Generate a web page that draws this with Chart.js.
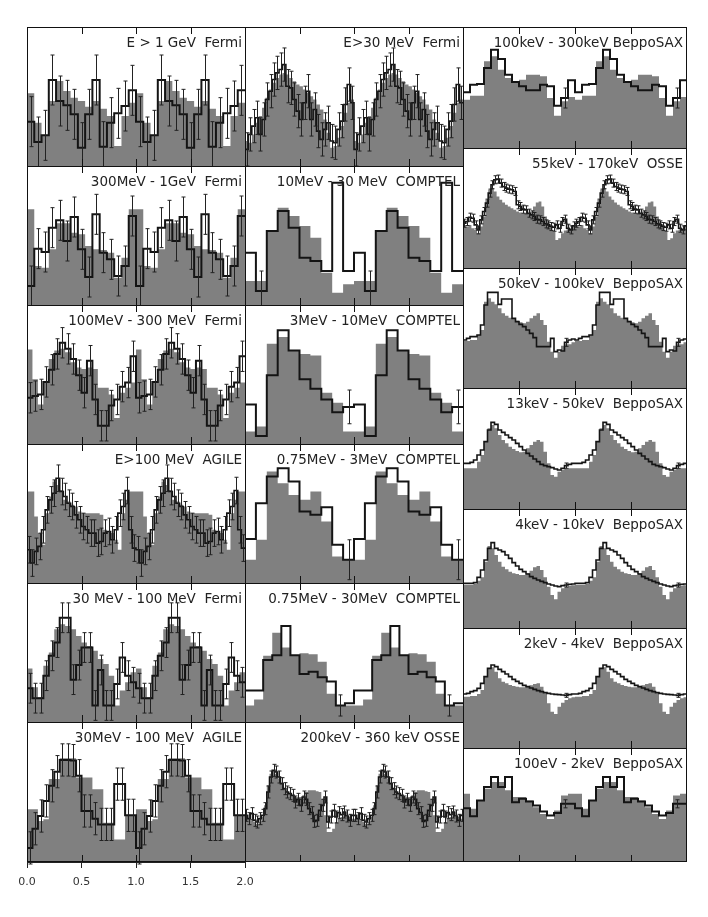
<!DOCTYPE html>
<html>
<head>
<meta charset="utf-8">
<script src="https://cdn.jsdelivr.net/npm/chart.js@4.4.1/dist/chart.umd.min.js"></script>
<style>
  body { margin: 0; background: #fff; width: 708px; height: 917px; position: relative; overflow: hidden; }
  .panel { position: absolute; }
  .label { position: absolute; font-family: "DejaVu Sans", sans-serif; font-size: 13.5px; line-height: 1; color: #222; white-space: pre; text-align: right; }
</style>
</head>
<body>
<script>
// phase axis
const phaseTicks = [0, 0.5, 1, 1.5, 2];
const phaseTickLabels = ["0.0", "0.5", "1.0", "1.5", "2.0"];

const titles = [
  "E > 1 GeV  Fermi", "300MeV - 1GeV  Fermi", "100MeV - 300 MeV  Fermi",
  "E>100 MeV  AGILE", "30 MeV - 100 MeV  Fermi", "30MeV - 100 MeV  AGILE",
  "E>30 MeV  Fermi", "10MeV - 30 MeV  COMPTEL", "3MeV - 10MeV  COMPTEL",
  "0.75MeV - 3MeV  COMPTEL", "0.75MeV - 30MeV  COMPTEL", "200keV - 360 keV OSSE",
  "100keV - 300keV BeppoSAX", "55keV - 170keV  OSSE", "50keV - 100keV  BeppoSAX",
  "13keV - 50keV  BeppoSAX", "4keV - 10keV  BeppoSAX", "2keV - 4keV  BeppoSAX",
  "100eV - 2keV  BeppoSAX"
];

// one pulse cycle per panel: measured counts (data) and model (gray)
const gevData = [133, 72, 92, 258, 195, 182, 155, 55, 155, 258, 58, 130, 158, 180, 227];
const gevModel = [218, 130, 90, 195, 255, 225, 205, 195, 178, 195, 172, 150, 60, 150, 190];

const fermi300Data = [57, 169, 159, 232, 254, 192, 264, 167, 84, 272, 157, 137, 87, 117, 267];
const fermi300Model = [287, 117, 112, 167, 245, 245, 217, 212, 177, 167, 165, 157, 82, 142, 287];

const fermi100Data = [137, 142, 147, 184, 220, 267, 300, 282, 252, 204, 152, 247, 132, 54, 54, 114, 132, 170, 182, 260];
const fermi100Model = [280, 192, 117, 187, 252, 277, 282, 272, 242, 227, 222, 227, 222, 167, 167, 147, 77, 152, 167, 182];

const agile100Data = [100, 60, 95, 110, 160, 220, 250, 270, 315, 275, 260, 240, 230, 205, 190, 170, 160, 150, 150, 120, 125, 150, 155, 130, 160, 210, 230, 278, 160, 105];
const agile100Model = [275, 275, 200, 150, 115, 210, 260, 305, 295, 280, 250, 245, 235, 230, 215, 210, 210, 210, 210, 210, 205, 160, 155, 150, 130, 100, 210, 250, 275, 275];

const fermi30Data = [102, 72, 72, 140, 200, 240, 315, 315, 128, 172, 225, 225, 50, 157, 50, 50, 115, 195, 140, 120];
const fermi30Model = [162, 105, 75, 170, 210, 280, 295, 290, 280, 260, 240, 230, 215, 190, 175, 140, 50, 95, 120, 150];

const agile30Data = [42, 99, 137, 182, 227, 269, 304, 304, 302, 257, 152, 152, 129, 112, 112, 112, 232, 232, 139, 139];
const agile30Model = [157, 157, 122, 127, 247, 247, 309, 309, 309, 252, 252, 252, 217, 217, 117, 117, 67, 67, 137, 137];

const fermiAllData = [50, 95, 120, 145, 95, 140, 200, 225, 260, 280, 290, 305, 240, 235, 200, 165, 140, 190, 225, 140, 170, 105, 80, 110, 130, 75, 70, 110, 135, 185, 245, 190];
const fermiAllModel = [75, 70, 95, 130, 150, 175, 205, 230, 250, 265, 275, 280, 275, 265, 255, 245, 240, 230, 220, 210, 200, 185, 170, 140, 100, 55, 60, 85, 120, 160, 190, 200];

const comptel10Data = [157, 42, 222, 282, 232, 142, 132, 102, 367, 102];
const comptel10Model = [72, 72, 222, 292, 267, 237, 202, 97, 37, 62];

const comptel3Data = [117, 24, 204, 337, 277, 192, 164, 132, 94, 110];
const comptel3Model = [37, 52, 297, 317, 277, 267, 262, 152, 122, 37];

const comptel075Data = [132, 240, 320, 345, 305, 215, 205, 228, 115, 70];
const comptel075Model = [70, 130, 335, 300, 265, 250, 275, 185, 80, 70];

const comptelWideData = [95, 95, 187, 202, 290, 202, 145, 152, 135, 122, 50, 57];
const comptelWideModel = [50, 68, 200, 270, 225, 200, 208, 205, 182, 85, 50, 50];

const osse200Data = [140, 130, 145, 125, 120, 130, 140, 160, 210, 255, 275, 270, 255, 235, 220, 210, 205, 200, 180, 188, 170, 195, 188, 160, 148, 122, 125, 155, 170, 195, 120, 135, 155, 135, 148, 142, 150, 138, 125, 140];
const osse200Model = [130, 130, 125, 120, 115, 120, 135, 170, 230, 265, 275, 265, 250, 235, 220, 210, 205, 200, 195, 195, 195, 200, 210, 215, 215, 215, 212, 210, 190, 140, 90, 90, 100, 120, 130, 135, 138, 135, 135, 130];

const sax100Data = [167, 190, 192, 240, 295, 267, 220, 198, 185, 173, 173, 190, 185, 127, 150, 203];
const sax100Model = [145, 157, 157, 260, 275, 235, 210, 200, 205, 220, 220, 215, 150, 97, 140, 153];

const osse55Data = [134, 139, 152, 149, 129, 114, 144, 169, 194, 224, 249, 264, 266, 254, 244, 239, 236, 234, 229, 189, 184, 176, 174, 164, 159, 154, 146, 144, 139, 132, 129, 124, 122, 129, 119, 139, 146, 119, 114, 126];
const osse55Model = [129, 124, 129, 119, 114, 104, 124, 154, 204, 234, 239, 229, 214, 204, 196, 189, 184, 179, 174, 169, 166, 164, 162, 164, 169, 184, 196, 199, 184, 154, 139, 129, 109, 84, 89, 104, 112, 116, 119, 124];

const sax50Data = [144, 149, 154, 154, 159, 189, 249, 287, 287, 287, 251, 267, 267, 267, 209, 199, 191, 184, 174, 164, 151, 124, 124, 124, 124, 149, 109, 114, 111, 137, 144, 147];
const sax50Model = [141, 141, 144, 144, 159, 174, 259, 269, 259, 251, 239, 224, 217, 211, 207, 202, 197, 194, 199, 209, 217, 224, 204, 189, 139, 109, 91, 109, 127, 131, 131, 137];

const sax13Data = [137, 137, 140, 147, 162, 177, 202, 237, 260, 254, 237, 230, 222, 214, 207, 197, 187, 177, 167, 159, 150, 142, 134, 130, 127, 124, 120, 117, 122, 130, 134, 137];
const sax13Model = [122, 122, 122, 122, 142, 162, 202, 242, 252, 242, 222, 207, 197, 187, 180, 174, 170, 172, 182, 192, 202, 207, 202, 172, 137, 102, 97, 112, 117, 120, 122, 122];

const sax4Data = [134, 134, 134, 136, 152, 174, 204, 239, 256, 239, 234, 229, 219, 209, 196, 186, 176, 169, 162, 154, 149, 144, 140, 136, 132, 129, 126, 124, 127, 129, 131, 132];
const sax4Model = [129, 129, 129, 132, 142, 152, 199, 246, 239, 219, 199, 184, 176, 169, 164, 162, 159, 159, 164, 172, 182, 186, 174, 152, 124, 99, 86, 109, 119, 124, 126, 128];

const sax2Data = [162, 164, 169, 172, 179, 194, 214, 239, 249, 244, 236, 229, 222, 214, 206, 200, 194, 188, 184, 180, 176, 172, 169, 166, 164, 162, 161, 160, 159, 158, 160, 162];
const sax2Model = [154, 154, 156, 156, 162, 174, 214, 239, 242, 229, 209, 199, 194, 189, 186, 184, 182, 182, 184, 188, 192, 194, 184, 164, 134, 109, 102, 124, 136, 144, 149, 152];

const saxSoftData = [160, 136, 183, 223, 253, 223, 253, 178, 188, 180, 168, 150, 138, 146, 173, 173];
const saxSoftModel = [203, 158, 183, 218, 238, 238, 213, 193, 193, 183, 163, 143, 128, 153, 198, 203];

// y range, error size, and which bins carry an error bar (null = all)
const yMax = [417, 417, 412, 418, 420, 417, 418, 417, 412, 418, 420, 420, 363, 359, 360, 363, 357, 360, 339];
const errSize = [75, 60, 45, 40, 45, 48, 50, 60, 50, 60, 32, 18, 30, 12, 12, 8, 6, 6, 12];
const errBins = [null, null, null, null, null, null, null, [1], [9], [9], [10], null, [14], null, [29], [29], [29], [29], [14]];

const dataSets = [gevData, fermi300Data, fermi100Data, agile100Data, fermi30Data, agile30Data,
  fermiAllData, comptel10Data, comptel3Data, comptel075Data, comptelWideData, osse200Data,
  sax100Data, osse55Data, sax50Data, sax13Data, sax4Data, sax2Data, saxSoftData];
const modelSets = [gevModel, fermi300Model, fermi100Model, agile100Model, fermi30Model, agile30Model,
  fermiAllModel, comptel10Model, comptel3Model, comptel075Model, comptelWideModel, osse200Model,
  sax100Model, osse55Model, sax50Model, sax13Model, sax4Model, sax2Model, saxSoftModel];

// layout
const colX = [[27, 245], [245, 463], [463, 686]];
const rowsLM = [27, 166, 305, 444, 583, 722, 861];
const rowsR = [27, 148, 268, 388, 509, 628, 748, 861];

// two cycles, points on the bin edges for a stepped line
function series(cycle) {
  const n = cycle.length;
  const pts = [];
  for (let k = 0; k < 2 * n; k++) pts.push({ x: k / n, y: cycle[k % n] });
  pts.push({ x: 2, y: cycle[n - 1] });
  return pts;
}

function panelPlugin(i, col, lastRow) {
  return {
    id: "panelDeco" + i,
    afterDatasetsDraw(chart) {
      const { ctx, chartArea: a, scales: { x, y } } = chart;
      const vals = dataSets[i];
      const n = vals.length;
      const e = errSize[i];
      ctx.save();
      ctx.strokeStyle = "#222";
      ctx.lineWidth = 1;
      ctx.beginPath();
      for (let k = 0; k < 2 * n; k++) {
        const j = k % n;
        if (errBins[i] && !errBins[i].includes(j)) continue;
        const cx = Math.round(x.getPixelForValue((k + 0.5) / n)) + 0.5;
        const yt = y.getPixelForValue(vals[j] + e);
        const yb = y.getPixelForValue(vals[j] - e);
        ctx.moveTo(cx, yt); ctx.lineTo(cx, yb);
        ctx.moveTo(cx - 2, yt); ctx.lineTo(cx + 2, yt);
        ctx.moveTo(cx - 2, yb); ctx.lineTo(cx + 2, yb);
      }
      ctx.stroke();

      // frame and inner phase ticks
      ctx.strokeStyle = "#111";
      ctx.beginPath();
      ctx.moveTo(a.left, a.top + 0.5); ctx.lineTo(a.right, a.top + 0.5);
      ctx.moveTo(a.left + 0.5, a.top); ctx.lineTo(a.left + 0.5, a.bottom);
      if (col === 2) { ctx.moveTo(a.right - 0.5, a.top); ctx.lineTo(a.right - 0.5, a.bottom); }
      if (lastRow) { ctx.moveTo(a.left, a.bottom - 0.5); ctx.lineTo(a.right, a.bottom - 0.5); }
      for (const v of [0.5, 1, 1.5]) {
        const px = Math.round(x.getPixelForValue(v)) + 0.5;
        ctx.moveTo(px, a.top); ctx.lineTo(px, a.top + 7);
        ctx.moveTo(px, a.bottom - 7); ctx.lineTo(px, a.bottom);
      }
      ctx.stroke();
      ctx.restore();
    }
  };
}

for (let i = 0; i < dataSets.length; i++) {
  const col = i < 6 ? 0 : i < 12 ? 1 : 2;
  const row = col < 2 ? i % 6 : i - 12;
  const rows = col < 2 ? rowsLM : rowsR;
  const x0 = colX[col][0], x1 = colX[col][1];
  const y0 = rows[row], y1 = rows[row + 1];
  const lastRow = row === rows.length - 2;
  const withAxis = i === 5;
  const padSide = withAxis ? 15 : 0;
  const axisH = withAxis ? 32 : 0;

  const div = document.createElement("div");
  div.className = "panel";
  div.style.left = (x0 - padSide) + "px";
  div.style.top = y0 + "px";
  div.style.width = (x1 - x0 + (col === 2 ? 1 : 0) + 2 * padSide) + "px";
  div.style.height = (y1 - y0 + (lastRow ? 1 : 0) + axisH) + "px";
  const canvas = document.createElement("canvas");
  div.appendChild(canvas);
  document.body.appendChild(div);

  const fine = dataSets[i].length >= 30;

  new Chart(canvas, {
    type: "line",
    data: {
      datasets: [
        {
          data: series(modelSets[i]),
          stepped: true,
          fill: "origin",
          backgroundColor: "#808080",
          borderWidth: 0,
          pointRadius: 0,
          order: 2
        },
        {
          data: series(dataSets[i]),
          stepped: true,
          fill: false,
          borderColor: "#141414",
          borderWidth: fine ? 1.6 : 2,
          borderJoinStyle: "miter",
          pointRadius: 0,
          order: 1
        }
      ]
    },
    options: {
      responsive: true,
      maintainAspectRatio: false,
      animation: false,
      events: [],
      layout: { padding: { left: padSide, right: padSide, top: 0, bottom: 0 } },
      plugins: { legend: { display: false }, tooltip: { enabled: false } },
      scales: {
        x: {
          type: "linear",
          min: 0,
          max: 2,
          display: withAxis,
          afterBuildTicks: s => { s.ticks = phaseTicks.map(v => ({ value: v })); },
          afterFit: s => { s.height = axisH; s.paddingLeft = 0; s.paddingRight = 0; },
          ticks: {
            callback: (v, idx) => phaseTickLabels[idx],
            font: { family: "DejaVu Sans", size: 11 },
            color: "#333",
            padding: 8,
            maxRotation: 0,
            autoSkip: false
          },
          grid: { drawOnChartArea: false, drawTicks: true, tickLength: 6, color: "#222" },
          border: { display: true, color: "#222", width: 1 }
        },
        y: { min: 0, max: yMax[i], display: false }
      }
    },
    plugins: [panelPlugin(i, col, lastRow)]
  });

  const lab = document.createElement("div");
  lab.className = "label";
  lab.textContent = titles[i];
  lab.style.right = (708 - x1 + 3) + "px";
  lab.style.top = (y0 + 9) + "px";
  document.body.appendChild(lab);
}
</script>
</body>
</html>
